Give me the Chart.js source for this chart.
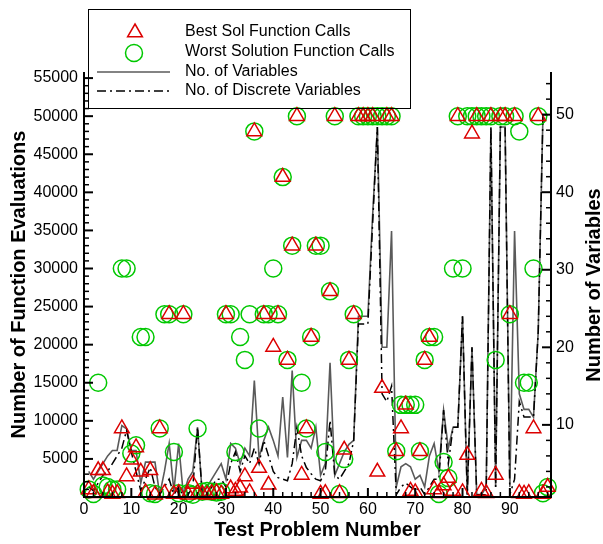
<!DOCTYPE html>
<html>
<head>
<meta charset="utf-8">
<script src="https://cdn.jsdelivr.net/npm/chart.js@4.4.1/dist/chart.umd.min.js"></script>
<style>
  html, body { margin: 0; padding: 0; background: #fff; }
  #wrap { width: 603px; height: 544px; }
</style>
</head>
<body>
<div id="wrap"><canvas id="myChart" width="603" height="544"></canvas></div>
<script>
// function calls of the best / worst run for every test problem (left axis)
var bestCalls = [
  1000, 500, 3500, 3500, 600, 400, 500, 9000, 2700, 4900,
  6500, 3300, 600, 3500, 300, 9000, 500, 24000, 400, 500,
  24000, 300, 1700, 500, 400, 300, 500, 600, 400, 24000,
  1100, 800, 1200, 2700, 600, 48000, 3800, 24000, 1600, 19700,
  24000, 42000, 18000, 33000, 50000, 2900, 9000, 21000, 33000, 400,
  500, 27000, 50000, 500, 6200, 18000, 24000, 50000, 50000, 50000,
  50000, 3300, 14300, 50000, 50000, 6000, 9000, 12100, 800, 600,
  6000, 18000, 21000, 1000, 500, 1500, 2500, 800, 50000, 600,
  5500, 47700, 50000, 800, 500, 50000, 2900, 50000, 50000, 24000,
  50000, 500, 400, 500, 9000, 50000, 400, 1300
];
var worstCalls = [
  1000, 400, 15000, 1500, 1300, 1000, 1000, 30000, 30000, 5700,
  6800, 21000, 21000, 500, 400, 9000, 24000, 24000, 5900, 500,
  24000, 500, 300, 9000, 700, 800, 700, 600, 700, 24000,
  24000, 5900, 21000, 18000, 24000, 48000, 9000, 24000, 24000, 30000,
  24000, 42000, 18000, 33000, 50000, 15000, 9000, 21000, 33000, 33000,
  5900, 27000, 50000, 400, 5000, 18000, 24000, 50000, 50000, 50000,
  50000, 50000, 50000, 50000, 50000, 6000, 12100, 12100, 12100, 12100,
  6000, 18000, 21000, 21000, 400, 4600, 2500, 30000, 50000, 30000,
  50000, 50000, 50000, 50000, 50000, 50000, 18000, 50000, 50000, 24000,
  50000, 48000, 15000, 15000, 30000, 50000, 500, 1300
];
// problem size (right axis)
var numVars = [
  4, 3, 4, 5, 6, 6.7, 6.7, 9.9, 9.5, 6.7,
  6.7, 2.5, 5.2, 5.2, 5.2, 1, 4, 7.6, 1.5, 7.6,
  1, 3, 4, 9.7, 1, 2, 3, 4, 5, 3,
  7.6, 7, 5, 7, 6, 15.7, 5.8, 8, 9.7, 8,
  6, 13.6, 5.8, 17, 5.8, 8, 8, 7, 9.7, 3.5,
  5, 18, 3.5, 5, 6.5, 7.5, 8, 24, 24, 24,
  37, 48.4, 20, 20, 35, 2, 4.6, 5, 4.6, 3,
  3.5, 2, 6, 7.6, 4, 11.9, 7, 9.7, 9.7, 24,
  1, 20, 1, 1, 2, 48.4, 2, 48.4, 48.4, 2,
  35, 14, 12, 12, 11, 22, 50, 50
];
var numDiscrete = [
  2, 1.5, 2.5, 3.5, 4, 5, 6, 7, 9.3, 6.5,
  4, 1.5, 3, 4.5, 2, 1, 2, 3, 1, 2,
  0.8, 1, 2, 9.7, 1, 1, 2, 3, 3, 2,
  5, 6.5, 4, 6, 5, 7, 5, 8, 6, 4,
  3.2, 3, 2.8, 5, 9.7, 6, 4.5, 3.7, 3, 2.8,
  4, 10.6, 3.5, 3, 4, 5, 8, 23, 23, 23,
  36, 48.4, 14, 13, 15, 1, 2, 2.5, 2, 1.5,
  2, 1, 2, 3, 3, 11.9, 5, 9.7, 9.7, 24,
  1, 20, 1, 1, 1, 48.4, 2, 48.4, 48.4, 1,
  3, 13, 11, 11, 11, 22, 50, 50
];
var problemNo = bestCalls.map(function (v, k) { return k + 1; });

// labelled tick values on each axis
var xLabels = [0, 10, 20, 30, 40, 50, 60, 70, 80, 90];
var evalLabels = [5000, 10000, 15000, 20000, 25000, 30000, 35000, 40000, 45000, 50000, 55000];
var varLabels = [10, 20, 30, 40, 50];

function pts(values) {
  return values.map(function (v, k) { return { x: problemNo[k], y: v }; });
}
function fixedTicks(list) {
  return function (scale) {
    scale.ticks = list.map(function (v) { return { value: v }; });
  };
}

var FONT = '"Liberation Sans", Arial, sans-serif';
var RED = 'rgb(220,0,0)';
var GREEN = 'rgb(0,200,0)';
var GRAY = 'rgb(90,90,90)';
var DASHDOT = [9, 4, 2, 4];

// axis lines, inward tick marks, right title and the boxed legend
var frame = {
  id: 'frame',
  afterDraw: function (chart) {
    var ctx = chart.ctx;
    var a = chart.chartArea;
    var sx = chart.scales.x, sy = chart.scales.y, sy2 = chart.scales.y2;
    var v, p, len;
    ctx.save();
    ctx.strokeStyle = '#000';
    ctx.fillStyle = '#000';

    // legend
    ctx.lineWidth = 1;
    ctx.strokeRect(88.5, 9.5, 322, 99);
    ctx.font = '16px ' + FONT;
    ctx.textBaseline = 'middle';
    ctx.textAlign = 'left';
    ctx.fillText('Best Sol Function Calls', 185, 32);
    ctx.fillText('Worst Solution Function Calls', 185, 52);
    ctx.fillText('No. of Variables', 185, 72);
    ctx.fillText('No. of Discrete Variables', 185, 91);
    ctx.lineWidth = 1.5;
    ctx.strokeStyle = RED;
    ctx.beginPath();
    ctx.moveTo(135, 24); ctx.lineTo(142.4, 36.8); ctx.lineTo(127.6, 36.8); ctx.closePath();
    ctx.stroke();
    ctx.strokeStyle = GREEN;
    ctx.beginPath();
    ctx.arc(134, 53, 8.5, 0, Math.PI * 2);
    ctx.stroke();
    ctx.strokeStyle = GRAY;
    ctx.lineWidth = 1.6;
    ctx.beginPath(); ctx.moveTo(97, 72); ctx.lineTo(170, 72); ctx.stroke();
    ctx.strokeStyle = '#000';
    ctx.setLineDash(DASHDOT);
    ctx.beginPath(); ctx.moveTo(97, 91); ctx.lineTo(170, 91); ctx.stroke();
    ctx.setLineDash([]);

    // axis lines
    ctx.strokeStyle = '#000';
    ctx.lineWidth = 2;
    ctx.beginPath();
    ctx.moveTo(a.left, a.top); ctx.lineTo(a.left, a.bottom); ctx.lineTo(a.right, a.bottom); ctx.lineTo(a.right, a.top);
    ctx.stroke();

    // left ticks every 1000, long every 5000
    for (v = 1000; v <= sy.max; v += 1000) {
      p = sy.getPixelForValue(v);
      len = v % 5000 === 0 ? 9 : 5;
      ctx.lineWidth = v % 5000 === 0 ? 2 : 1.5;
      ctx.beginPath(); ctx.moveTo(a.left, p); ctx.lineTo(a.left + len, p); ctx.stroke();
    }
    // right ticks every 2, long every 10
    for (v = 2; v <= sy2.max; v += 2) {
      p = sy2.getPixelForValue(v);
      len = v % 10 === 0 ? 9 : 5;
      ctx.lineWidth = v % 10 === 0 ? 2 : 1.5;
      ctx.beginPath(); ctx.moveTo(a.right, p); ctx.lineTo(a.right - len, p); ctx.stroke();
    }
    // bottom ticks every 2, long every 10
    for (v = 2; v <= sx.max; v += 2) {
      p = sx.getPixelForValue(v);
      len = v % 10 === 0 ? 9 : 5;
      ctx.lineWidth = v % 10 === 0 ? 2 : 1.5;
      ctx.beginPath(); ctx.moveTo(p, a.bottom); ctx.lineTo(p, a.bottom - len); ctx.stroke();
    }

    // right axis title, reading upwards
    ctx.translate(594, 285);
    ctx.rotate(-Math.PI / 2);
    ctx.font = 'bold 20px ' + FONT;
    ctx.textAlign = 'center';
    ctx.textBaseline = 'middle';
    ctx.fillText('Number of Variables', 0, 0);
    ctx.restore();
  }
};

var tickFont = { family: FONT, size: 16 };
var titleFont = { family: FONT, size: 20, weight: 'bold' };

var ctx = document.getElementById('myChart').getContext('2d');
var chart = new Chart(ctx, {
  type: 'scatter',
  data: {
    datasets: [
      {
        label: 'Best Sol Function Calls',
        data: pts(bestCalls),
        yAxisID: 'y',
        pointStyle: 'triangle',
        pointRadius: 8.5,
        pointBorderWidth: 1.5,
        borderColor: RED,
        backgroundColor: 'rgba(0,0,0,0)',
        clip: false
      },
      {
        label: 'Worst Solution Function Calls',
        data: pts(worstCalls),
        yAxisID: 'y',
        pointStyle: 'circle',
        pointRadius: 8.5,
        pointBorderWidth: 1.5,
        borderColor: GREEN,
        backgroundColor: 'rgba(0,0,0,0)',
        clip: false
      },
      {
        type: 'line',
        label: 'No. of Discrete Variables',
        data: pts(numDiscrete),
        yAxisID: 'y2',
        borderColor: '#000',
        borderWidth: 1.5,
        borderDash: DASHDOT,
        pointRadius: 0,
        fill: false,
        tension: 0
      },
      {
        type: 'line',
        label: 'No. of Variables',
        data: pts(numVars),
        yAxisID: 'y2',
        borderColor: GRAY,
        borderWidth: 1.6,
        pointRadius: 0,
        fill: false,
        tension: 0
      }
    ]
  },
  options: {
    responsive: false,
    animation: false,
    devicePixelRatio: 1,
    layout: { padding: { top: 72, left: 0, right: 0, bottom: 0 } },
    plugins: { legend: { display: false }, tooltip: { enabled: false } },
    scales: {
      x: {
        type: 'linear',
        position: 'bottom',
        min: 0,
        max: 98.7,
        afterBuildTicks: fixedTicks(xLabels),
        afterFit: function (s) { s.height = 47; },
        grid: { display: false, drawTicks: false },
        border: { display: false },
        ticks: {
          autoSkip: false, maxRotation: 0,
          padding: 3, color: '#000', font: tickFont,
          callback: function (v) { return String(v); }
        },
        title: { display: true, text: 'Test Problem Number', color: '#000', font: titleFont, padding: { top: 0, bottom: 2 } }
      },
      y: {
        type: 'linear',
        position: 'left',
        min: 0,
        max: 55800,
        afterBuildTicks: fixedTicks(evalLabels),
        afterFit: function (s) { s.width = 84; },
        grid: { display: false, drawTicks: false },
        border: { display: false },
        ticks: {
          autoSkip: false,
          padding: 6, color: '#000', font: tickFont,
          callback: function (v) { return String(v); }
        },
        title: { display: true, text: 'Number of Function Evaluations', color: '#000', font: titleFont, padding: { top: 7, bottom: 0 } }
      },
      y2: {
        type: 'linear',
        position: 'right',
        min: 0.7,
        max: 55.5,
        afterBuildTicks: fixedTicks(varLabels),
        afterFit: function (s) { s.width = 52; },
        grid: { display: false, drawTicks: false },
        border: { display: false },
        ticks: {
          autoSkip: false,
          padding: 5, color: '#000', font: tickFont,
          callback: function (v) { return String(v); }
        }
      }
    }
  },
  plugins: [frame]
});
</script>
</body>
</html>
